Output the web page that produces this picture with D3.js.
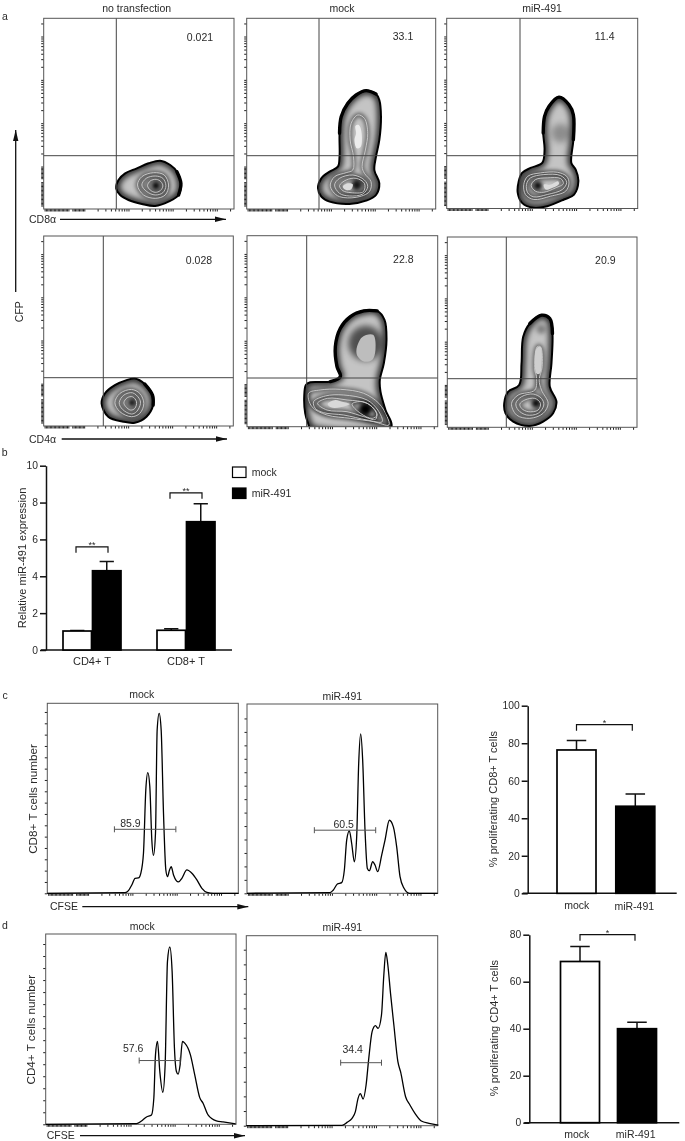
<!DOCTYPE html>
<html>
<head>
<meta charset="utf-8">
<title>miR-491 figure</title>
<script src="https://cdn.jsdelivr.net/npm/d3@7"></script>
<style>
  html, body { margin: 0; padding: 0; background: #fff; }
  svg { filter: blur(0.3px); }
  text { font-family: "Liberation Sans", Arial, sans-serif; fill: #2a2a2a; }
  .frame { fill: none; stroke: #555; stroke-width: 1; }
  .tick line { stroke: #222; stroke-width: 1; }
  .bar-axis .tick line, .bar-axis path { stroke: #111; stroke-width: 1.5; }
</style>
</head>
<body>
<svg id="chart" width="685" height="1141"></svg>
<script>
'use strict';

// zebra plot contours, flow channels [x, y]; first one is the outer edge
const cd8None = [
  [[217,62],[224,87],[244,107],[279,122],[314,137],[349,145],[379,132],[399,112],[411,77],[404,42],[374,22],[334,9],[294,15],[254,27],[229,42]],
  [[281,72],[294,97],[329,109],[361,102],[374,72],[364,42],[334,32],[299,42]],
  [[294,72],[307,92],[334,99],[357,92],[366,70],[357,49],[334,42],[309,52]],
  [[311,70],[319,84],[337,89],[351,82],[357,69],[349,55],[334,50],[319,57]]
];
const cd8Mock = [
  [[215,62],[225,92],[250,112],[275,127],[280,157],[280,227],[285,277],[305,317],[330,342],[360,355],[390,345],[400,327],[405,277],[400,207],[390,157],[385,117],[400,77],[390,42],[360,25],[310,15],[250,22],[225,37]],
  [[252,72],[265,97],[300,109],[320,117],[322,157],[312,207],[315,257],[335,282],[355,272],[365,227],[358,177],[348,127],[355,107],[375,82],[370,52],[330,35],[280,37],[260,52]],
  [[265,72],[280,92],[320,102],[355,87],[365,67],[350,45],[310,39],[280,47]],
  [[280,70],[300,87],[330,92],[355,77],[352,52],[315,49],[290,55]]
];
const cd8Mir = [
  [[215,82],[225,107],[250,122],[285,137],[292,177],[288,227],[292,277],[305,307],[335,335],[365,312],[378,282],[378,207],[372,137],[385,117],[393,82],[380,42],[350,27],[300,7],[260,2],[225,17],[212,47]],
  [[230,72],[242,97],[280,107],[330,109],[358,97],[365,77],[355,52],[310,37],[260,27],[235,42]],
  [[238,72],[250,92],[290,102],[340,99],[358,79],[345,57],[300,42],[260,35],[242,47]],
  [[252,69],[265,87],[300,92],[340,90],[348,75],[325,62],[290,49],[265,52]]
];
const cd4None = [
  [[174,68],[184,98],[214,123],[249,138],[274,143],[304,126],[327,93],[329,63],[309,28],[274,10],[239,13],[194,28]],
  [[214,70],[229,98],[264,110],[289,98],[301,68],[289,38],[264,28],[229,43]],
  [[227,70],[241,93],[267,100],[287,83],[291,68],[279,43],[264,36],[237,50]],
  [[241,70],[251,85],[267,88],[279,73],[274,53],[261,48],[247,58]]
];
const cd4Mock = [
  [[171,90],[176,125],[189,133],[249,135],[279,150],[269,180],[264,240],[279,295],[309,330],[349,347],[389,347],[411,320],[417,260],[409,190],[397,140],[399,105],[414,50],[431,0],[190,-4],[182,12],[174,40]],
  [[184,100],[219,110],[279,112],[349,100],[394,70],[419,30],[424,5],[379,15],[309,25],[239,35],[194,60]],
  [[199,75],[234,92],[289,95],[359,80],[391,50],[404,15],[359,20],[289,35],[229,42],[204,55]],
  [[211,70],[241,85],[299,80],[359,70],[387,40],[384,22],[349,30],[299,45],[239,50]],
  [[314,68],[344,75],[374,60],[389,35],[374,25],[339,40]]
];
const cd4Mir = [
  [[171,72],[183,107],[216,127],[223,192],[228,272],[248,312],[283,337],[308,327],[316,282],[313,192],[308,122],[328,77],[318,42],[288,17],[248,4],[198,17],[175,42]],
  [[193,72],[213,97],[263,112],[268,152],[263,172],[270,242],[280,242],[285,182],[276,142],[283,112],[303,72],[288,42],[248,27],[208,37]],
  [[206,72],[223,92],[258,100],[283,87],[290,67],[273,42],[238,37],[213,52]],
  [[218,70],[233,82],[263,87],[280,72],[273,52],[243,47],[223,57]]
];

// which run of outer edge points is drawn heavier
const cd8NoneHeavy = [7, 10];
const cd8MockHeavy = [5, 11];
const cd8MirHeavy = [5, 12];
const cd4NoneHeavy = [5, 8];
const cd4MockHeavy = [3, 11];
const cd4MirHeavy = [5, 9];

// dark density peaks [x, y, radius, strength]
const cd8NonePeaks = [[336,70,13,1]];
const cd8MockPeaks = [[332,72,17,0.9]];
const cd8MirPeaks = [[272,69,13,1],[340,227,28,0.28]];
const cd4NonePeaks = [[265,70,11,1]];
const cd4MockPeaks = [[354,52,20,1],[355,250,52,0.6]];
const cd4MirPeaks = [[266,72,13,1],[282,295,14,0.35]];

// pale density cores and their grey
const cd8NoneCores = [];
const cd8MockCores = [
  [[328,249],[338,252],[346,232],[344,187],[332,182],[325,207],[330,227]],
  [[290,67],[305,77],[320,74],[315,59],[300,57]]
];
const cd8MockCoreGrey = ['#ececec', '#dcdcdc'];
const cd8MirCores = [[[290,72],[310,72],[332,82],[335,74],[315,62],[295,57]]];
const cd8MirCoreGrey = ['#dcdcdc'];
const cd4NoneCores = [];
const cd4MockCores = [
  [[327,230],[344,268],[377,275],[384,230],[374,200],[349,195],[331,210]],
  [[241,68],[264,80],[284,75],[307,68],[279,58],[251,58]]
];
const cd4MockCoreGrey = ['#bdbdbd', '#d8d8d8'];
const cd4MirCores = [[[268,237],[280,242],[284,192],[278,162],[268,162],[263,192]]];
const cd4MirCoreGrey = ['#cfcfcf'];

const flowLabels = ['no transfection', 'mock', 'miR-491'];
const cd8Percent = ['0.021', '33.1', '11.4'];
const cd4Percent = ['0.028', '22.8', '20.9'];

// CFSE histograms [channel, count]
const cd8HistMock = [[0,0],[233,2],[243,8],[253,25],[263,45],[273,46],[280,60],[288,120],[295,310],[301,362],[307,320],[313,160],[318,114],[324,180],[329,490],[335,540],[341,490],[348,240],[355,70],[360,50],[366,70],[371,80],[378,55],[393,34],[403,45],[418,70],[433,60],[448,40],[463,15],[478,3],[498,0],[573,0]];
const cd8HistMir = [[0,0],[249,2],[259,10],[271,28],[284,32],[292,70],[299,160],[307,188],[314,150],[322,95],[329,170],[335,390],[341,480],[347,400],[354,190],[361,75],[367,68],[377,95],[384,85],[392,65],[404,115],[414,160],[427,220],[439,200],[449,140],[459,50],[471,15],[487,0],[572,0]];
const cd4HistMock = [[0,0],[273,2],[288,10],[303,22],[318,28],[325,78],[330,208],[336,248],[343,158],[352,96],[359,178],[366,488],[373,531],[380,458],[387,228],[393,158],[398,150],[404,178],[411,248],[418,243],[435,208],[448,148],[463,80],[473,63],[488,28],[513,10],[533,7],[571,1]];
const cd4HistMir = [[0,0],[286,1],[301,10],[316,22],[326,42],[334,82],[341,96],[349,80],[358,122],[366,202],[376,282],[386,300],[394,292],[404,332],[411,452],[417,520],[423,482],[431,397],[441,302],[453,192],[461,162],[476,87],[489,62],[506,34],[523,14],[546,7],[574,2]];

// bars
const seriesNames = ['mock', 'miR-491'];
const exprGroups = ['CD4+ T', 'CD8+ T'];
const exprMock = [1.03, 1.07];
const exprMockErr = [1.06, 1.15];
const exprMir = [4.3, 6.96];
const exprMirErr = [4.8, 7.93];
const exprTicks = [0, 2, 4, 6, 8, 10];
const exprBrackets = [5.6, 8.53];
const cd8Prolif = [76.4, 46.4];
const cd8ProlifErr = [81.5, 52.9];
const cd8Ticks = [0, 20, 40, 60, 80, 100];
const cd4Prolif = [68.6, 40];
const cd4ProlifErr = [75, 42.7];
const cd4Ticks = [0, 20, 40, 60, 80];

const svg = d3.select('#chart');
const defs = svg.append('defs');

defs.append('filter').attr('id', 'soft')
  .attr('x', '-40%').attr('y', '-40%').attr('width', '180%').attr('height', '180%')
  .append('feGaussianBlur').attr('stdDeviation', 1.9);
defs.append('filter').attr('id', 'softer')
  .attr('x', '-60%').attr('y', '-60%').attr('width', '220%').attr('height', '220%')
  .append('feGaussianBlur').attr('stdDeviation', 3.2);
defs.append('marker').attr('id', 'head')
  .attr('markerUnits', 'userSpaceOnUse')
  .attr('markerWidth', 12).attr('markerHeight', 6)
  .attr('refX', 11).attr('refY', 3).attr('orient', 'auto')
  .append('path').attr('d', 'M0,0.3L11,3L0,5.7Z').attr('fill', '#111');

function label(x, y, str, size, anchor, rotate) {
  var t = svg.append('text')
    .attr('x', x).attr('y', y)
    .attr('dy', '0.35em')
    .attr('font-size', size || 10.5)
    .attr('text-anchor', anchor || 'middle')
    .text(str);
  if (rotate) {
    t.attr('transform', 'rotate(-90 ' + x + ' ' + y + ')');
  }
  return t;
}

function arrow(x1, y1, x2, y2) {
  svg.append('line')
    .attr('x1', x1).attr('y1', y1).attr('x2', x2).attr('y2', y2)
    .attr('stroke', '#111').attr('stroke-width', 1.3)
    .attr('marker-end', 'url(#head)');
}

// cytometer ticks: dense compressed part, then decades
const lowTicks = d3.range(1.1, 1.98, 0.03)
  .filter(function (e) { return e < 1.66 || e > 1.72; })
  .map(function (e) { return Math.pow(10, e); });
const decadeTicks = [];
[100, 1000, 10000, 100000].forEach(function (d) {
  d3.range(1, 10).forEach(function (k) { decadeTicks.push(k * d); });
});
const flowTicks = lowTicks.concat(decadeTicks);

function flowAxes(g, box) {
  var w = box.x1 - box.x0;
  var h = box.y1 - box.y0;
  var xLog = d3.scaleLog().domain([Math.pow(10, 1.08), Math.pow(10, 5.39)]).range([0, w]);
  var yLog = d3.scaleLog().domain([Math.pow(10, 1.02), Math.pow(10, 5.42)]).range([h, 0]);
  g.append('g')
    .attr('transform', 'translate(0,' + h + ')')
    .call(d3.axisBottom(xLog).tickValues(flowTicks.filter(function (v) { return v < xLog.domain()[1]; })).tickSize(2.5).tickFormat(''))
    .select('.domain').remove();
  return yLog;
}

function flowPanel(box, contours, heavy, peaks, cores, coreGrey, idx) {
  var w = box.x1 - box.x0;
  var h = box.y1 - box.y0;
  var g = svg.append('g').attr('transform', 'translate(' + box.x0 + ',' + box.y0 + ')');
  var cx = d3.scaleLinear().domain([0, 570]).range([0, w]);
  var cy = d3.scaleLinear().domain([0, 572]).range([h, 0]);
  var closed = d3.line()
    .x(function (d) { return cx(d[0]); })
    .y(function (d) { return cy(d[1]); })
    .curve(d3.curveCatmullRomClosed.alpha(0.5));
  var open = d3.line()
    .x(function (d) { return cx(d[0]); })
    .y(function (d) { return cy(d[1]); })
    .curve(d3.curveCatmullRom.alpha(0.5));

  var yLog = flowAxes(g, box);
  g.append('g')
    .call(d3.axisLeft(yLog).tickValues(flowTicks.filter(function (v) { return v < yLog.domain()[1]; })).tickSize(2.5).tickFormat(''))
    .select('.domain').remove();

  var frameClip = 'frame-' + idx;
  defs.append('clipPath').attr('id', frameClip)
    .append('rect').attr('width', w).attr('height', h);
  var edgeClip = 'edge-' + idx;
  defs.append('clipPath').attr('id', edgeClip)
    .append('path').attr('d', closed(contours[0]));

  var plot = g.append('g').attr('clip-path', 'url(#' + frameClip + ')');
  plot.append('path').attr('d', closed(contours[0])).attr('fill', '#c4c4c4');

  var shade = plot.append('g').attr('clip-path', 'url(#' + edgeClip + ')');
  shade.selectAll('.halo')
    .data(contours)
    .enter()
    .append('path')
    .attr('class', 'halo')
    .attr('d', closed)
    .attr('fill', 'none')
    .attr('stroke', '#000')
    .attr('stroke-width', function (d, i) { return i === 0 ? 6 : 3; })
    .attr('opacity', function (d, i) { return i === 0 ? 1 : 0.7; })
    .attr('filter', function (d, i) { return i === 0 ? 'url(#softer)' : 'url(#soft)'; });
  shade.selectAll('.peak')
    .data(peaks)
    .enter()
    .append('circle')
    .attr('class', 'peak')
    .attr('cx', function (d) { return cx(d[0]); })
    .attr('cy', function (d) { return cy(d[1]); })
    .attr('r', function (d) { return cx(d[2]); })
    .attr('fill', '#000')
    .attr('opacity', function (d) { return d[3]; })
    .attr('filter', function (d) { return d[2] > 20 ? 'url(#softer)' : 'url(#soft)'; });
  shade.selectAll('.core')
    .data(cores)
    .enter()
    .append('path')
    .attr('class', 'core')
    .attr('d', closed)
    .attr('fill', function (d, i) { return coreGrey[i]; });

  plot.selectAll('.contour')
    .data(contours.slice(1))
    .enter()
    .append('path')
    .attr('class', 'contour')
    .attr('d', closed)
    .attr('fill', 'none')
    .attr('stroke', '#cfcfcf')
    .attr('stroke-width', 0.9);
  plot.append('path')
    .attr('d', closed(contours[0]))
    .attr('fill', 'none')
    .attr('stroke', '#000')
    .attr('stroke-width', 2);
  plot.append('path')
    .attr('d', open(contours[0].slice(heavy[0], heavy[1])))
    .attr('fill', 'none')
    .attr('stroke', '#000')
    .attr('stroke-linecap', 'round')
    .attr('stroke-width', 3.4);

  g.append('line')
    .attr('x1', box.gateX - box.x0).attr('x2', box.gateX - box.x0)
    .attr('y1', 0).attr('y2', h)
    .attr('stroke', '#444').attr('stroke-width', 1);
  g.append('line')
    .attr('x1', 0).attr('x2', w)
    .attr('y1', box.gateY - box.y0).attr('y2', box.gateY - box.y0)
    .attr('stroke', '#444').attr('stroke-width', 1);
  g.append('rect').attr('class', 'frame').attr('width', w).attr('height', h);
}

function histPanel(box, values, gate) {
  var w = box.x1 - box.x0;
  var h = box.y1 - box.y0;
  var g = svg.append('g').attr('transform', 'translate(' + box.x0 + ',' + box.y0 + ')');
  var cx = d3.scaleLinear().domain([0, 572]).range([0, w]);
  var cy = d3.scaleLinear().domain([0, 570]).range([h, 0]);
  var curve = d3.line()
    .x(function (d) { return cx(d[0]); })
    .y(function (d) { return cy(d[1]); })
    .curve(d3.curveMonotoneX);

  flowAxes(g, box);
  g.append('g')
    .call(d3.axisLeft(cy).tickValues(d3.range(0, 550, box.tickStep)).tickSize(2.5).tickFormat(''))
    .select('.domain').remove();
  g.append('rect').attr('class', 'frame').attr('width', w).attr('height', h);
  g.append('path')
    .attr('d', curve(values))
    .attr('fill', 'none')
    .attr('stroke', '#000')
    .attr('stroke-width', 1.3);

  // marker gate
  var gy = cy(gate.y);
  g.append('path')
    .attr('d', 'M' + cx(gate.from) + ',' + gy + 'H' + cx(gate.to) +
      'M' + cx(gate.from) + ',' + (gy - 3) + 'v6M' + cx(gate.to) + ',' + (gy - 3) + 'v6')
    .attr('fill', 'none').attr('stroke', '#555').attr('stroke-width', 1);
  g.append('text')
    .attr('x', cx(gate.labelX)).attr('y', cy(gate.labelY))
    .attr('dy', '0.35em').attr('text-anchor', 'middle').attr('font-size', 10.5)
    .text(gate.text);
}

function barAxis(opt) {
  var y = d3.scaleLinear().domain([0, opt.max]).range([opt.bottom, opt.top]);
  var g = svg.append('g').attr('class', 'bar-axis').attr('transform', 'translate(' + opt.left + ',0)');
  g.call(d3.axisLeft(y).tickValues(opt.ticks).tickSize(6).tickSizeOuter(0).tickPadding(2));
  g.selectAll('text').attr('font-size', 10.3).attr('fill', '#2a2a2a');
  svg.append('line')
    .attr('x1', opt.left - 5).attr('x2', opt.right)
    .attr('y1', opt.bottom).attr('y2', opt.bottom)
    .attr('stroke', '#111').attr('stroke-width', 1.5);
  return y;
}

function bar(cx, width, value, err, fill, y) {
  svg.append('path')
    .attr('d', 'M' + cx + ',' + y(value) + 'V' + y(err) + 'm' + (-width * 0.25) + ',0h' + (width * 0.5))
    .attr('fill', 'none').attr('stroke', '#111').attr('stroke-width', 1.5);
  svg.append('rect')
    .attr('x', cx - width / 2).attr('width', width)
    .attr('y', y(value)).attr('height', y(0) - y(value))
    .attr('fill', fill).attr('stroke', '#000').attr('stroke-width', 1.7);
}

function bracket(x1, x2, yTop, stars) {
  svg.append('path')
    .attr('d', 'M' + x1 + ',' + (yTop + 6) + 'V' + yTop + 'H' + x2 + 'V' + (yTop + 6))
    .attr('fill', 'none').attr('stroke', '#111').attr('stroke-width', 1.2);
  svg.append('text')
    .attr('x', (x1 + x2) / 2).attr('y', yTop + 1)
    .attr('text-anchor', 'middle').attr('font-size', 9)
    .text(stars);
}

// panel a
const cd8Boxes = [
  {x0: 43.7, x1: 234, y0: 18.3, y1: 209, gateX: 116.3, gateY: 155.7},
  {x0: 246.7, x1: 435.7, y0: 18.3, y1: 209, gateX: 319, gateY: 155.7},
  {x0: 446.7, x1: 637.7, y0: 18.3, y1: 208.5, gateX: 520, gateY: 155.7}
];
const cd4Boxes = [
  {x0: 43.7, x1: 233.3, y0: 236, y1: 426, gateX: 103.3, gateY: 377.7},
  {x0: 247, x1: 437.7, y0: 235.7, y1: 426.7, gateX: 306.7, gateY: 378},
  {x0: 447.3, x1: 637, y0: 237, y1: 427.3, gateX: 506.3, gateY: 378.7}
];
flowPanel(cd8Boxes[0], cd8None, cd8NoneHeavy, cd8NonePeaks, cd8NoneCores, [], 0);
flowPanel(cd8Boxes[1], cd8Mock, cd8MockHeavy, cd8MockPeaks, cd8MockCores, cd8MockCoreGrey, 1);
flowPanel(cd8Boxes[2], cd8Mir, cd8MirHeavy, cd8MirPeaks, cd8MirCores, cd8MirCoreGrey, 2);
flowPanel(cd4Boxes[0], cd4None, cd4NoneHeavy, cd4NonePeaks, cd4NoneCores, [], 3);
flowPanel(cd4Boxes[1], cd4Mock, cd4MockHeavy, cd4MockPeaks, cd4MockCores, cd4MockCoreGrey, 4);
flowPanel(cd4Boxes[2], cd4Mir, cd4MirHeavy, cd4MirPeaks, cd4MirCores, cd4MirCoreGrey, 5);

label(5, 16, 'a');
[136.7, 342, 542].forEach(function (x, i) { label(x, 8, flowLabels[i]); });
[[200, 37], [403, 36.7], [604.7, 36]].forEach(function (p, i) { label(p[0], p[1], cd8Percent[i]); });
[[199, 260], [403.3, 259.3], [605.3, 260]].forEach(function (p, i) { label(p[0], p[1], cd4Percent[i]); });
label(29, 219.5, 'CD8α', 10.5, 'start');
label(29, 439.5, 'CD4α', 10.5, 'start');
arrow(60, 219.3, 226, 219.3);
arrow(61.7, 439, 227, 439);
arrow(15.7, 292, 15.7, 130);
label(19, 311.7, 'CFP', 10.5, 'middle', true);

// panel b
label(4.7, 452, 'b');
const exprY = barAxis({left: 46, top: 465.7, bottom: 650, max: 10, ticks: exprTicks, right: 232});
const exprX = d3.scaleBand().domain(exprGroups).range([45, 233]);
const exprSeries = d3.scaleBand().domain(seriesNames).range([-29.5, 29.5]);
exprGroups.forEach(function (name, i) {
  var mid = exprX(name) + exprX.bandwidth() / 2;
  var w = exprSeries.bandwidth();
  bar(mid + exprSeries(seriesNames[0]) + w / 2, w - 1, exprMock[i], exprMockErr[i], '#fff', exprY);
  bar(mid + exprSeries(seriesNames[1]) + w / 2, w - 1, exprMir[i], exprMirErr[i], '#000', exprY);
  bracket(mid - 16, mid + 16, exprY(exprBrackets[i]), '**');
  label(mid, 661, name, 11);
});
label(22, 558, 'Relative miR-491 expression', 11, 'middle', true);
seriesNames.forEach(function (name, i) {
  svg.append('rect')
    .attr('x', 232.5).attr('y', 467 + i * 21).attr('width', 13.5).attr('height', 10.5)
    .attr('fill', i ? '#000' : '#fff').attr('stroke', '#000').attr('stroke-width', 1.2);
  label(251.7, 472.3 + i * 21, name, 10.5, 'start');
});

// panels c and d, histograms
const cd8HistBoxes = [
  {x0: 47.3, x1: 238.3, y0: 703.3, y1: 893.3, tickStep: 34},
  {x0: 247, x1: 437.7, y0: 704, y1: 893.3, tickStep: 40.5}
];
const cd4HistBoxes = [
  {x0: 45.7, x1: 236, y0: 934, y1: 1124.3, tickStep: 36},
  {x0: 246.3, x1: 437.7, y0: 935.7, y1: 1125.7, tickStep: 44}
];
histPanel(cd8HistBoxes[0], cd8HistMock, {from: 201, to: 385, y: 192, labelX: 249, labelY: 210, text: '85.9'});
histPanel(cd8HistBoxes[1], cd8HistMir, {from: 202, to: 386, y: 190, labelX: 290, labelY: 208, text: '60.5'});
histPanel(cd4HistBoxes[0], cd4HistMock, {from: 281, to: 404, y: 191, labelX: 263, labelY: 228, text: '57.6'});
histPanel(cd4HistBoxes[1], cd4HistMir, {from: 282, to: 404, y: 189, labelX: 318, labelY: 230, text: '34.4'});

label(5, 695, 'c');
label(5, 925, 'd');
label(141.7, 694, seriesNames[0]);
label(342.3, 696.7, seriesNames[1]);
label(142.3, 926, seriesNames[0]);
label(342.3, 927.7, seriesNames[1]);
label(32.7, 799, 'CD8+ T cells number', 11.7, 'middle', true);
label(31, 1029.7, 'CD4+ T cells number', 11.7, 'middle', true);
label(50, 906.7, 'CFSE', 10.5, 'start');
label(46.7, 1135.7, 'CFSE', 10.5, 'start');
arrow(82.3, 906.7, 248.3, 906.7);
arrow(80, 1135.7, 245, 1135.7);

// panels c and d, bars
const cd8Y = barAxis({left: 527.7, top: 705.7, bottom: 893.3, max: 100, ticks: cd8Ticks, right: 676.7});
const cd8X = d3.scalePoint().domain(seriesNames).range([576.5, 635.3]);
seriesNames.forEach(function (name, i) {
  bar(cd8X(name), 39, cd8Prolif[i], cd8ProlifErr[i], i ? '#000' : '#fff', cd8Y);
});
bracket(cd8X(seriesNames[0]), cd8X(seriesNames[1]) - 3, cd8Y(89.9), '*');
label(576.7, 905, seriesNames[0]);
label(634.3, 906.7, seriesNames[1]);
label(493.3, 799, '% proliferating CD8+ T cells', 11, 'middle', true);

const cd4Y = barAxis({left: 529.3, top: 934.7, bottom: 1122.7, max: 80, ticks: cd4Ticks, right: 679.3});
const cd4X = d3.scalePoint().domain(seriesNames).range([580, 637]);
seriesNames.forEach(function (name, i) {
  bar(cd4X(name), 39, cd4Prolif[i], cd4ProlifErr[i], i ? '#000' : '#fff', cd4Y);
});
bracket(cd4X(seriesNames[0]), cd4X(seriesNames[1]) - 2, cd4Y(80), '*');
label(576.7, 1134, seriesNames[0]);
label(635.7, 1134, seriesNames[1]);
label(494.3, 1028, '% proliferating CD4+ T cells', 11, 'middle', true);
</script>
</body>
</html>
